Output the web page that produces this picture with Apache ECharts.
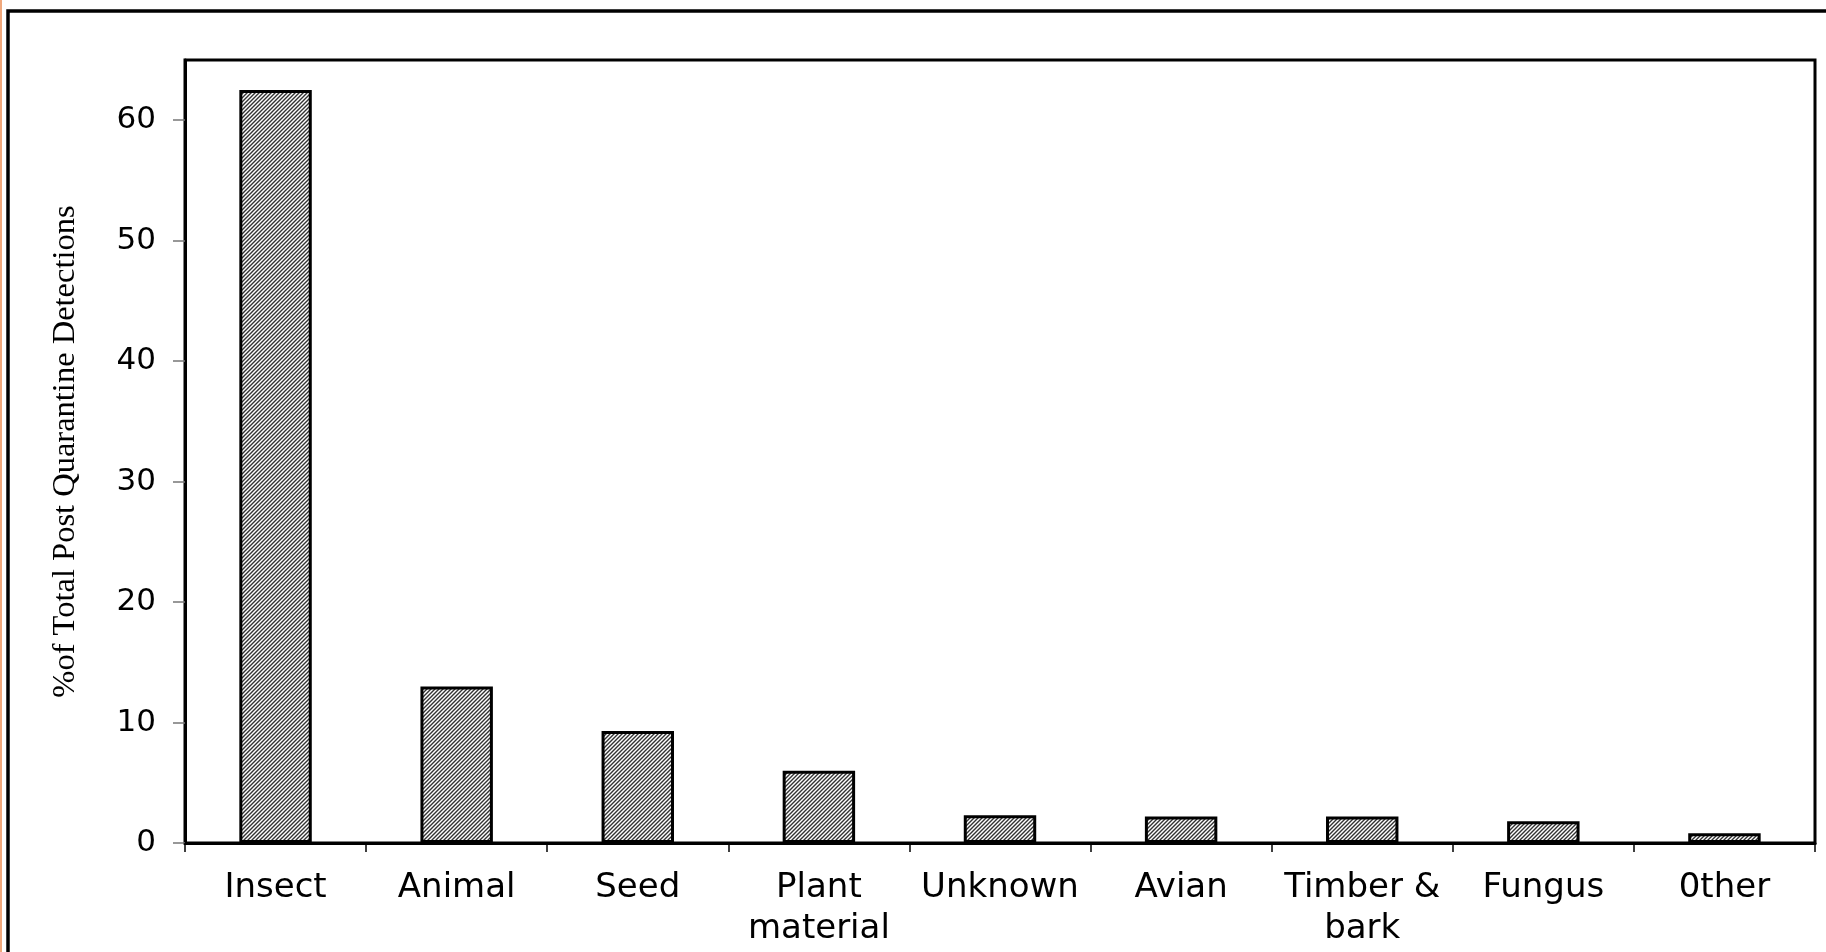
<!DOCTYPE html>
<html>
<head>
<meta charset="utf-8">
<script src="https://cdn.jsdelivr.net/npm/echarts@6/dist/echarts.min.js"></script>
<style>html,body{margin:0;padding:0;background:#fff;}#c{width:1826px;height:952px;}</style>
</head>
<body>
<div id="c"></div>
<script>
var categories = ['Insect', 'Animal', 'Seed', 'Plant\nmaterial', 'Unknown', 'Avian', 'Timber &\nbark', 'Fungus', '0ther'];
var values = [62.5, 13.0, 9.3, 6.0, 2.3, 2.2, 2.2, 1.8, 0.8];
var yTicks = [0, 10, 20, 30, 40, 50, 60];
var yTitle = '%of Total Post Quarantine Detections';

function hatch() {
  var s = 4, c = document.createElement('canvas');
  c.width = s; c.height = s;
  var g = c.getContext('2d');
  g.fillStyle = '#fff'; g.fillRect(0, 0, s, s);
  g.strokeStyle = '#333'; g.lineWidth = 1.4;
  g.beginPath();
  g.moveTo(-1, s + 1); g.lineTo(s + 1, -1);
  g.moveTo(-1, 1); g.lineTo(1, -1);
  g.moveTo(s - 1, s + 1); g.lineTo(s + 1, s - 1);
  g.stroke();
  return c;
}

var chart = echarts.init(document.getElementById('c'));
chart.setOption({
  backgroundColor: '#fff',
  animation: false,
  grid: { left: 185, top: 60, right: 11, bottom: 109, show: true, borderColor: '#000', borderWidth: 3 },
  xAxis: {
    type: 'category',
    data: categories,
    axisLine: { lineStyle: { color: '#000', width: 3 } },
    axisTick: { show: true, alignWithLabel: false, length: 9, lineStyle: { color: '#000', width: 1.5 } },
    axisLabel: { fontFamily: 'DejaVu Sans', fontSize: 34, color: '#000', margin: 25, lineHeight: 41, interval: 0 },
    splitLine: { show: false }
  },
  yAxis: {
    type: 'value',
    min: 0, max: 65, interval: 10,
    name: yTitle,
    nameLocation: 'middle',
    nameGap: 103,
    nameTextStyle: { fontFamily: 'Liberation Serif', fontSize: 32.5, color: '#000' },
    axisLine: { show: true, lineStyle: { color: '#000', width: 3 } },
    axisTick: { show: true, length: 12, customValues: yTicks, lineStyle: { color: '#777', width: 1.5 } },
    axisLabel: { fontFamily: 'DejaVu Sans', fontSize: 31, color: '#000', margin: 29, customValues: yTicks },
    splitLine: { show: false }
  },
  series: [{
    type: 'bar',
    data: values,
    barWidth: '40%',
    itemStyle: { color: { image: hatch(), repeat: 'repeat' }, borderColor: '#000', borderWidth: 3 }
  }],
  graphic: [
    { type: 'line', shape: { x1: 1, y1: 0, x2: 1, y2: 952 }, style: { stroke: '#f0a87c', lineWidth: 2 }, silent: true },
    { type: 'rect', shape: { x: 8, y: 11, width: 1850, height: 1000 }, style: { fill: null, stroke: '#000', lineWidth: 3.5 }, silent: true }
  ]
});
</script>
</body>
</html>
